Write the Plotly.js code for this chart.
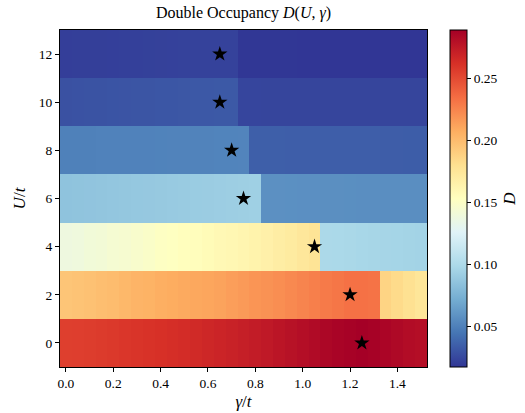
<!DOCTYPE html>
<html>
<head>
<meta charset="utf-8">
<script src="https://cdn.plot.ly/plotly-3.0.1.min.js"></script>
<style>html,body{margin:0;padding:0;background:#fff;}#chart{width:525px;height:413px;}</style>
</head>
<body>
<div id="chart"></div>
<script>
// gamma/t grid (cell centres)
const gamma = [0.00,0.05,0.10,0.15,0.20,0.25,0.30,0.35,0.40,0.45,0.50,0.55,0.60,0.65,0.70,0.75,0.80,0.85,0.90,0.95,1.00,1.05,1.10,1.15,1.20,1.25,1.30,1.35,1.40,1.45,1.50];
// U/t rows
const U = [0, 2, 4, 6, 8, 10, 12];
// Double occupancy D, one row per U
const D_U0  = [0.255,0.2555,0.256,0.257,0.258,0.259,0.260,0.261,0.262,0.263,0.264,0.2655,0.267,0.2685,0.270,0.2715,0.273,0.275,0.277,0.279,0.281,0.283,0.285,0.287,0.288,0.289,0.288,0.286,0.284,0.282,0.281];
const D_U2  = [0.195,0.196,0.197,0.199,0.200,0.202,0.204,0.205,0.207,0.208,0.209,0.210,0.211,0.212,0.214,0.216,0.218,0.219,0.221,0.223,0.225,0.227,0.229,0.231,0.233,0.233,0.232,0.187,0.183,0.179,0.175];
const D_U4  = [0.138,0.139,0.141,0.142,0.144,0.145,0.147,0.149,0.151,0.152,0.154,0.155,0.157,0.159,0.160,0.162,0.164,0.166,0.169,0.171,0.174,0.177,0.099,0.0985,0.098,0.0975,0.097,0.0965,0.096,0.0955,0.095];
const D_U6  = [0.085,0.0855,0.086,0.0865,0.087,0.0875,0.088,0.0885,0.089,0.0895,0.090,0.0905,0.091,0.0915,0.092,0.0925,0.093,0.0575,0.0574,0.0573,0.0572,0.0571,0.057,0.0569,0.0568,0.0567,0.0567,0.0566,0.0566,0.0565,0.0565];
const D_U8  = [0.050,0.0502,0.0504,0.0505,0.0506,0.0507,0.0508,0.0509,0.051,0.0511,0.0512,0.0513,0.0514,0.0515,0.0516,0.0517,0.0348,0.0347,0.0347,0.0346,0.0346,0.0345,0.0345,0.0344,0.0344,0.0343,0.0343,0.0342,0.0342,0.0341,0.034];
const D_U10 = [0.029,0.0292,0.0295,0.0297,0.030,0.0302,0.0305,0.0307,0.031,0.0312,0.0315,0.0318,0.032,0.0322,0.0325,0.0238,0.0238,0.0237,0.0237,0.0237,0.0236,0.0236,0.0236,0.0236,0.0235,0.0235,0.0235,0.0235,0.0235,0.0235,0.0235];
const D_U12 = [0.0208,0.0209,0.021,0.0211,0.0212,0.0213,0.0216,0.0218,0.022,0.0221,0.0222,0.0222,0.0223,0.0223,0.0223,0.0176,0.0176,0.0175,0.0175,0.0175,0.0174,0.0174,0.0174,0.0173,0.0173,0.0173,0.0173,0.0172,0.0172,0.0172,0.0172];
// transition points (stars)
const starGamma = [1.25, 1.20, 1.05, 0.75, 0.70, 0.65, 0.65];
const starU     = [0, 2, 4, 6, 8, 10, 12];
const cbTicks = [0.05, 0.10, 0.15, 0.20, 0.25];
const gammaTicks = [0.0, 0.2, 0.4, 0.6, 0.8, 1.0, 1.2, 1.4];
const UTicks = [0, 2, 4, 6, 8, 10, 12];

const z = [D_U0, D_U2, D_U4, D_U6, D_U8, D_U10, D_U12];
const rdylbu_r = [
  [0.0,'#313695'],[0.1,'#4575b4'],[0.2,'#74add1'],[0.3,'#abd9e9'],[0.4,'#e0f3f8'],
  [0.5,'#ffffbf'],[0.6,'#fee090'],[0.7,'#fdae61'],[0.8,'#f46d43'],[0.9,'#d73027'],[1.0,'#a50026']];

const font = {family: '"Liberation Serif", "DejaVu Serif", serif', color: '#000'};

const traces = [
  {
    type: 'heatmap', x: gamma, y: U, z: z,
    colorscale: rdylbu_r, zmin: 0.0172, zmax: 0.289,
    zsmooth: false, hoverinfo: 'skip',
    colorbar: {
      x: 1.0627, xanchor: 'left', xpad: 0, y: 0.5, yanchor: 'middle', ypad: 0,
      len: 1, lenmode: 'fraction', thickness: 17, thicknessmode: 'pixels',
      outlinewidth: 1, outlinecolor: '#000',
      tickvals: cbTicks, tickformat: '.2f', ticks: 'outside', ticklen: 4, tickcolor: '#000',
      tickfont: Object.assign({size: 13.5}, font),
      title: {text: '<i>D</i>', side: 'right', font: Object.assign({size: 17}, font)}
    }
  },
  {
    type: 'scatter', mode: 'markers', x: starGamma, y: starU,
    marker: {symbol: 'star', size: 11.5, color: '#000', line: {width: 0}},
    hoverinfo: 'skip', showlegend: false
  }
];

const layout = {
  width: 525, height: 413,
  margin: {l: 60, r: 98, t: 30, b: 46, pad: 0, autoexpand: false},
  paper_bgcolor: '#fff', plot_bgcolor: '#fff',
  showlegend: false,
  font: Object.assign({size: 13.5}, font),
  title: {text: 'Double Occupancy <i>D</i>(<i>U</i>, <i>γ</i>)', x: 0.5, xref: 'paper', xanchor: 'center', y: 0.969, yanchor: 'middle', yref: 'container', font: Object.assign({size: 16}, font)},
  xaxis: {
    range: [-0.025, 1.525], tickvals: gammaTicks, tickformat: '.1f',
    ticks: 'outside', ticklen: 4, tickcolor: '#000', showgrid: false, zeroline: false,
    showline: true, mirror: true, linecolor: '#000', linewidth: 1,
    tickfont: Object.assign({size: 13.5}, font),
    title: {text: '<i>γ</i>/<i>t</i>', standoff: 4, font: Object.assign({size: 17}, font)}
  },
  yaxis: {
    range: [-1, 13], tickvals: UTicks,
    ticks: 'outside', ticklen: 4, tickcolor: '#000', showgrid: false, zeroline: false,
    showline: true, mirror: true, linecolor: '#000', linewidth: 1,
    tickfont: Object.assign({size: 13.5}, font),
    title: {text: '<i>U</i>/<i>t</i>', standoff: 8, font: Object.assign({size: 17}, font)}
  }
};

Plotly.newPlot('chart', traces, layout, {staticPlot: true, displayModeBar: false});
</script>
</body>
</html>
